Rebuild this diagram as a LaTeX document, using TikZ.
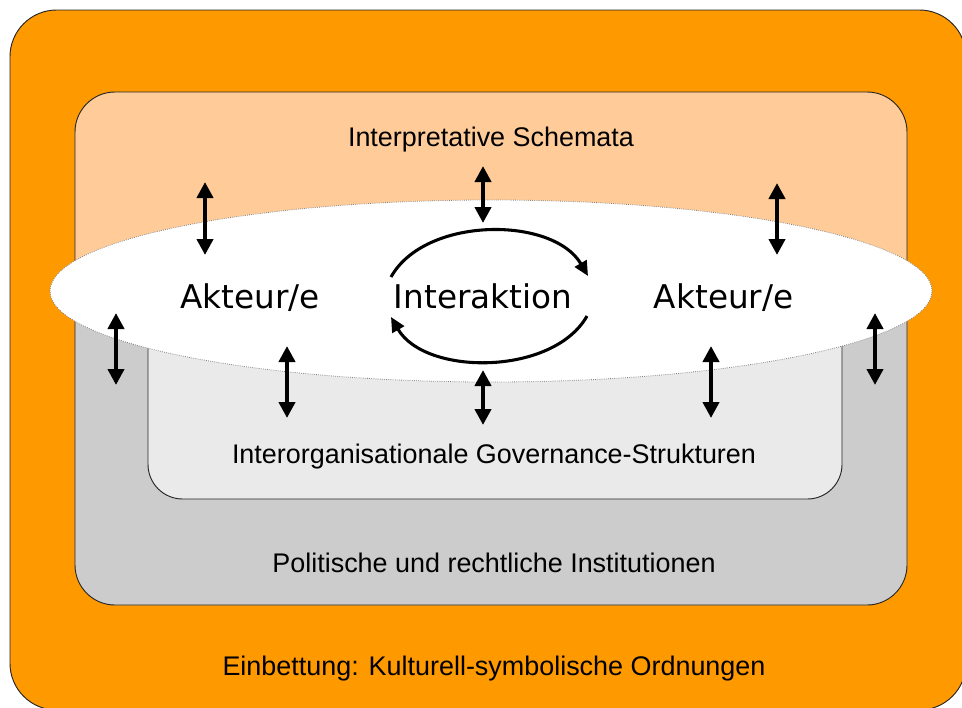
\documentclass[tikz,border=0pt]{standalone}
\usepackage{fontspec}
\setmainfont{Liberation Sans}
\newfontfamily\actorfont{DejaVu Sans}
\usetikzlibrary{positioning, arrows.meta, shapes.geometric}
\definecolor{embedorange}{RGB}{255,153,0}
\definecolor{schemapeach}{RGB}{255,204,153}
\definecolor{instgray}{RGB}{204,204,204}
\definecolor{govgray}{RGB}{234,234,234}
\tikzset{
    layer/.style={draw=black!85, line width=0.7pt}, % frame of each layer
    label/.style={anchor=base, font=\fontsize{20.2}{24}\selectfont}, % names of the layers
    actor/.style={inner sep=0pt, font=\actorfont\fontsize{24.5}{29}\selectfont}, % texts inside the ellipse
    >={Triangle[width=12pt, length=12pt]}, % filled arrow heads
    link/.style={<->, line width=3.2pt}, % arrows between the layers and the ellipse
    turn/.style={->, line width=2.3pt, >={Triangle[width=10pt, length=11pt]}}, % the two arcs round the interaction
}
\begin{document}
\begin{tikzpicture}[x=0.75pt, y=-0.75pt]
    \useasboundingbox (0,0) rectangle (962,707);
    % layers
    \draw[layer, fill=embedorange, rounded corners=35pt] (10,10) rectangle (966,710);
    \fill[schemapeach, rounded corners=30pt] (75,92) rectangle (907,605);
    \begin{scope}
        \clip (0,291) rectangle (962,707);
        \fill[instgray, rounded corners=30pt] (75,92) rectangle (907,605);
    \end{scope}
    \draw[layer, rounded corners=30pt] (75,92) rectangle (907,605);
    \draw[layer, fill=govgray, rounded corners=26pt] (148,262) rectangle (842,499);
    \node[draw=gray, densely dotted, line width=0.6pt, fill=white, ellipse, inner sep=0pt,
          minimum width=661.5pt, minimum height=136.5pt] (actors) at (491,291) {};

    \node[label] (schema) at (491,146) {Interpretative Schemata};
    \node[label] (gov) at (494,463) {Interorganisationale Governance-Strukturen};
    \node[label] (inst) at (494,572) {Politische und rechtliche Institutionen};
    \node[label] (embed) at (494,675) {Einbettung: Kulturell-symbolische Ordnungen};

    \node[actor, anchor=base] (inter) at (483,308) {Interaktion};
    \node[actor, base left=55pt of inter] (actorA) {Akteur/e};
    \node[actor, base right=61pt of inter] (actorB) {Akteur/e};

    % arrows between layers and actors
    \foreach \x/\ya/\yb [count=\i] in {205/182/255, 483/166/223, 777/183/255, 116/313/385,
                                       875/313/385, 287/346/418, 483/370/425, 711/346/418} {
        \coordinate (up\i) at (\x,\ya);
        \coordinate (down\i) at (\x,\yb);
        \draw[link] (up\i) -- (down\i);
    }

    \coordinate (turnA) at (391,277);
    \coordinate (turnB) at (588,276);
    \coordinate (turnC) at (587,316);
    \coordinate (turnD) at (391,317);
    \draw[turn] (turnA) .. controls (425,216) and (553,216) .. (turnB);
    \draw[turn] (turnC) .. controls (553,376) and (425,376) .. (turnD);
\end{tikzpicture}
\end{document}
